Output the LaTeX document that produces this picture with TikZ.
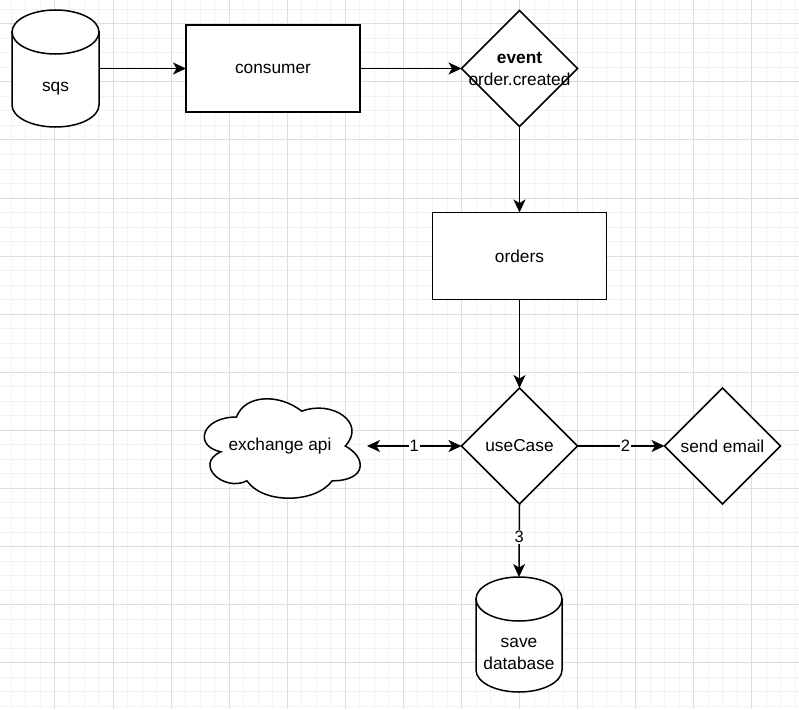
\documentclass[tikz,border=0pt]{standalone}
\usepackage{fontspec}
\setmainfont{Liberation Sans}
\usetikzlibrary{arrows.meta,shapes.geometric}
\newcommand\mainfs{\fontsize{17.3}{22}\selectfont}
\newcommand\labfs{\fontsize{16.5}{19}\selectfont}
\definecolor{gminor}{HTML}{F2F2F2}
\definecolor{gmajor}{HTML}{DDDDDD}
\begin{document}
\begin{tikzpicture}[x=1pt,y=-1pt,line width=1.5pt,
  box/.style={draw,fill=white,rectangle,minimum width=174pt,minimum height=87pt,inner sep=0pt,outer sep=0pt,font=\mainfs},
  dia/.style={draw,fill=white,diamond,aspect=1,minimum width=116pt,minimum height=116pt,inner sep=0pt,outer sep=0pt},
  ghost/.style={rectangle,inner sep=0pt,outer sep=0pt},
  txt/.style={font=\mainfs,align=center,inner sep=0pt},
  arr/.style={-{Stealth[length=13pt,width=12pt,inset=3.5pt]}},
  arrb/.style={{Stealth[length=13pt,width=12pt,inset=3.5pt]}-{Stealth[length=13pt,width=12pt,inset=3.5pt]}},
  elab/.style={fill=white,inner sep=1pt,font=\labfs},
  gridminor/.style={draw=gminor,line width=0.8pt},
  gridmajor/.style={draw=gmajor,line width=0.8pt}]
\useasboundingbox[fill=white] (0,0) rectangle (799,709);
% grid
\foreach \i in {0,...,55} {\draw[gridminor] ({11.32+14.52*\i},0) -- ({11.32+14.52*\i},709);}
\foreach \i in {0,...,48} {\draw[gridminor] (0,{9.2+14.52*\i}) -- (799,{9.2+14.52*\i});}
\foreach \i in {1,...,14} {\draw[gridmajor] ({-3.2+58.08*\i},0) -- ({-3.2+58.08*\i},709);}
\foreach \i in {0,...,11} {\draw[gridmajor] (0,{23.7+58.08*\i}) -- (799,{23.7+58.08*\i});}
% sqs cylinder
\node[ghost,minimum width=87pt,minimum height=117pt] (sqs) at (55.5,68.5) {};
\draw[fill=white] (12,32) -- (12,105) arc[start angle=180,end angle=360,x radius=43.5pt,y radius=22pt] -- (99,32) -- cycle;
\draw[fill=white] (55.5,32) ellipse[x radius=43.5pt,y radius=22pt];
\node[txt] (sqslbl) at (55.5,89) {sqs};
% consumer
\node[box] (consumer) at (273,68.5) {consumer};
% event
\node[dia] (event) at (519.5,68.5) {};
\node[txt] (eventlbl) at (519.5,69) {\textbf{event}\\order.created};
% orders
\node[box] (orders) at (519.5,256) {orders};
% useCase
\node[dia] (uc) at (519.5,446) {};
\node[txt] (uclbl) at (519.5,446) {useCase};
% send email
\node[dia] (mail) at (722.5,446) {};
\node[txt] (maillbl) at (722.5,446) {send email};
% cloud
\node[ghost,minimum width=174pt,minimum height=116pt] (cloud) at (280,446) {};
\begin{scope}[shift={(193,388)},x=174pt,y=-116pt]
\draw[fill=white] (0.25,0.25) .. controls (0.05,0.25) and (0,0.5) .. (0.16,0.55)
  .. controls (0,0.66) and (0.18,0.9) .. (0.31,0.8)
  .. controls (0.4,1) and (0.7,1) .. (0.8,0.8)
  .. controls (1,0.8) and (1,0.6) .. (0.875,0.5)
  .. controls (1,0.3) and (0.8,0.1) .. (0.625,0.2)
  .. controls (0.5,0.05) and (0.3,0.05) .. (0.25,0.25) -- cycle;
\end{scope}
\node[txt] (cloudlbl) at (280,446) {exchange api};
% database cylinder
\node[ghost,minimum width=86pt,minimum height=115pt] (db) at (519,634.5) {};
\draw[fill=white] (476,599) -- (476,670) arc[start angle=180,end angle=360,x radius=43pt,y radius=22pt] -- (562,599) -- cycle;
\draw[fill=white] (519,599) ellipse[x radius=43pt,y radius=22pt];
\node[txt] (dblbl) at (519,654) {save\\database};
% connectors
\draw[arr] (sqs.east) -- (consumer.west);
\draw[arr] (consumer.east) -- (event.west);
\draw[arr] (event.south) -- (orders.north);
\draw[arr] (orders.south) -- (uc.north);
\draw[arrb] (cloud.east) -- node[elab]{1} (uc.west);
\draw[arr] (uc.east) -- node[elab,pos=0.55]{2} (mail.west);
\draw[arr] (uc.south) -- node[elab,pos=0.45]{3} (db.north);
\end{tikzpicture}
\end{document}
